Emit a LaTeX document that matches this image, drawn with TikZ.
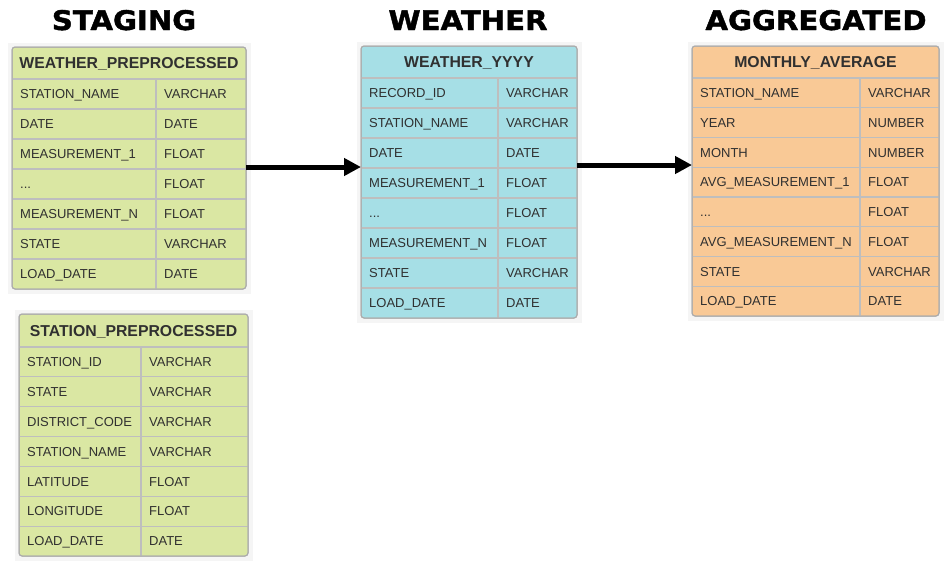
\documentclass[tikz,border=0pt]{standalone}
\usepackage{fontspec}
\setmainfont{Liberation Sans}
\newfontfamily\titlefont{DejaVu Sans}[BoldFeatures={FakeBold=1.6, FakeStretch=1.08}]
\usetikzlibrary{arrows.meta}
\definecolor{tgreen}{RGB}{218,231,163}
\definecolor{tcyan}{RGB}{166,223,230}
\definecolor{torange}{RGB}{249,201,150}
\definecolor{tborder}{RGB}{172,172,172}
\definecolor{tline}{RGB}{190,190,190}
\definecolor{ttext}{RGB}{48,48,48}
\definecolor{tpad}{RGB}{245,245,245}
\newcommand\myell{...}
\tikzset{
  tablebox/.style={draw=tborder, line width=1pt, rounded corners=3pt, inner sep=0pt, outer sep=0pt},
  rowline/.style={draw=tline, line width=1.2pt},
  celltext/.style={inner sep=0pt, text=ttext, font=\fontsize{13}{15}\selectfont, anchor=base west},
  headtext/.style={inner sep=0pt, text=ttext, font=\fontsize{15.8}{18}\selectfont\bfseries, anchor=base},
  titletext/.style={inner sep=0pt, text=black, font=\titlefont\fontsize{27}{32}\selectfont\bfseries, anchor=base},
  flowarrow/.style={line width=5pt, -{Triangle[length=17pt, width=17pt]}},
  padbox/.style={fill=tpad}
}
% #1 name, #2 left, #3 top, #4 right, #5 column x, #6 header bottom, #7 bottom, #8 header, #9 rows
\newcommand\dbtable[9]{%
  \foreach \ca/\cb [count=\ci] in {#9} {\xdef\nrows{\ci}}
  \pgfmathsetmacro\tw{#4-#2}
  \pgfmathsetmacro\th{#7-#3}
  \pgfmathsetmacro\rh{(#7-#6)/\nrows}
  \fill[padbox] (#2-4.5,#3-4.5) rectangle (#4+4.5,#7+4.5);
  \node[tablebox, fill=\tfill, minimum width=\tw pt, minimum height=\th pt, anchor=north west] (#1) at (#2,#3) {};
  \draw[rowline] (#2,#6) -- (#4,#6);
  \draw[rowline] (#5,#6) -- (#5,#7);
  \node[headtext] (#1-head) at ({(#2+#4)/2},{(#3+#6)/2+5.6}) {#8};
  \foreach \ca/\cb [count=\ci] in {#9} {
    \pgfmathsetmacro\ya{#6+(\ci-1)*\rh}
    \pgfmathsetmacro\yb{#6+\ci*\rh}
    \pgfmathsetmacro\ym{(\ya+\yb)/2+4.65}
    \ifnum\ci<\nrows\relax \draw[rowline] (#2,\yb) -- (#4,\yb); \fi
    \node[celltext] (#1-n\ci) at (#2+8,\ym) {\ca};
    \node[celltext] (#1-t\ci) at (#5+8,\ym) {\cb};
  }
  \draw[draw=tborder, line width=1pt, rounded corners=3pt] (#2,#3) rectangle (#4,#7);
}
\begin{document}
\begin{tikzpicture}[x=1pt,y=-1pt]
\useasboundingbox (0,0) rectangle (952,571);
\node[titletext] (title1) at (124,30) {STAGING};
\node[titletext] (title2) at (468,30) {WEATHER};
\node[titletext] (title3) at (816,30) {AGGREGATED};

\def\tfill{tgreen}
\dbtable{t1}{12}{47}{246}{156}{79}{289}{WEATHER\_PREPROCESSED}{STATION\_NAME/VARCHAR, DATE/DATE, MEASUREMENT\_1/FLOAT, \myell/FLOAT, MEASUREMENT\_N/FLOAT, STATE/VARCHAR, LOAD\_DATE/DATE}
\dbtable{t2}{19}{314}{248}{141}{347}{556}{STATION\_PREPROCESSED}{STATION\_ID/VARCHAR, STATE/VARCHAR, DISTRICT\_CODE/VARCHAR, STATION\_NAME/VARCHAR, LATITUDE/FLOAT, LONGITUDE/FLOAT, LOAD\_DATE/DATE}
\def\tfill{tcyan}
\dbtable{t3}{361}{46}{577}{498}{78}{318}{WEATHER\_YYYY}{RECORD\_ID/VARCHAR, STATION\_NAME/VARCHAR, DATE/DATE, MEASUREMENT\_1/FLOAT, \myell/FLOAT, MEASUREMENT\_N/FLOAT, STATE/VARCHAR, LOAD\_DATE/DATE}
\def\tfill{torange}
\dbtable{t4}{692}{46}{939}{860}{78}{316}{MONTHLY\_AVERAGE}{STATION\_NAME/VARCHAR, YEAR/NUMBER, MONTH/NUMBER, AVG\_MEASUREMENT\_1/FLOAT, \myell/FLOAT, AVG\_MEASUREMENT\_N/FLOAT, STATE/VARCHAR, LOAD\_DATE/DATE}

\coordinate (a1) at (0,167);
\coordinate (a2) at (0,165);
\draw[flowarrow] (t1.east |- a1) -- (t3.west |- a1);
\draw[flowarrow] (t3.east |- a2) -- (t4.west |- a2);
\end{tikzpicture}
\end{document}
